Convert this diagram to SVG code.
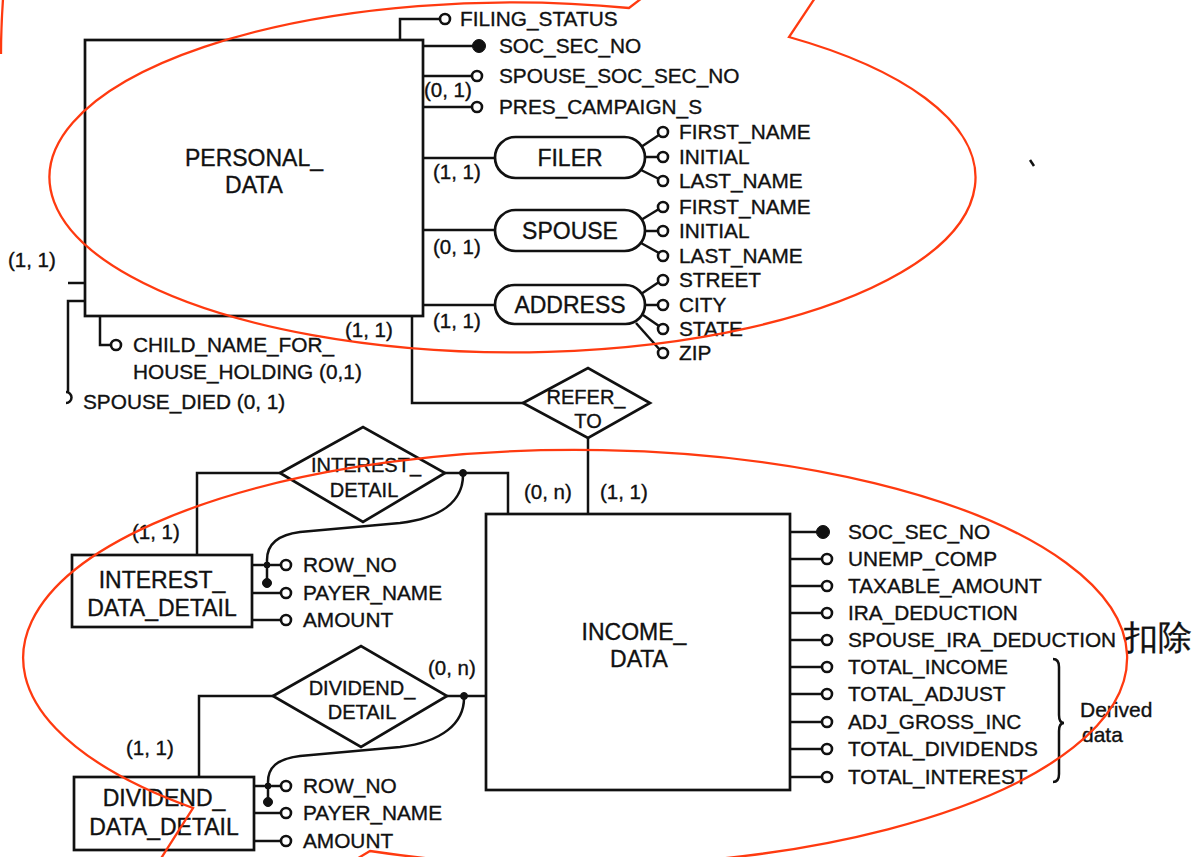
<svg xmlns="http://www.w3.org/2000/svg" width="1192" height="857" viewBox="0 0 1192 857">
<style>
text{font-family:"Liberation Sans",Arial,sans-serif;fill:#111;stroke:#111;stroke-width:0.35}
.ent{font-size:23px}
.rel{font-size:20px}
.att{font-size:20.8px}
.card{font-size:20.5px}
.box{fill:none;stroke:#111;stroke-width:2.7}
.ln{fill:none;stroke:#111;stroke-width:2.5}
.oc{fill:#fff;stroke:#111;stroke-width:2.6}
.fc{fill:#111;stroke:#111;stroke-width:1}
.red{fill:none;stroke:#ff3a10;stroke-width:2.3}
</style>
<rect width="1192" height="857" fill="#fff"/>

<g id="connectors">
<path class="ln" d="M400,40 V19 H440"/>
<path class="ln" d="M423,46 H473"/>
<path class="ln" d="M423,76 H472"/>
<path class="ln" d="M423,107 H472"/>
<path class="ln" d="M423,158 H495"/>
<path class="ln" d="M423,230 H495"/>
<path class="ln" d="M423,305 H495"/>
<path class="ln" d="M641,147 L659,135"/>
<path class="ln" d="M645,157 H658"/>
<path class="ln" d="M641,170 L659,179"/>
<path class="ln" d="M641,220 L659,209"/>
<path class="ln" d="M645,231 H658"/>
<path class="ln" d="M641,243 L659,253"/>
<path class="ln" d="M641,294 L659,282"/>
<path class="ln" d="M645,305 H658"/>
<path class="ln" d="M643,315 L659,326"/>
<path class="ln" d="M636,323 L660,350"/>
<path class="ln" d="M68,283 H86"/>
<path class="ln" d="M86,301 H68 V392"/>
<path class="ln" d="M66,392 A5.5,5.5 0 0 1 66,403"/>
<path class="ln" d="M100,316 V345 H111"/>
<path class="ln" d="M412,316 V403 H523"/>
<path class="ln" d="M588,438 V514"/>
<path class="ln" d="M280,473 H197 V555"/>
<path class="ln" d="M445,473 H508 V514"/>
<path class="ln" d="M463,473 C464,502 440,518 400,523 L300,532 C276,535 267,545 267,560 L267,583"/>
<circle class="fc" cx="463" cy="473" r="3.5"/>
<circle class="fc" cx="267" cy="565" r="3"/>
<circle class="fc" cx="267" cy="583" r="4.5"/>
<path class="ln" d="M252,565 H281"/>
<path class="ln" d="M252,593 H281"/>
<path class="ln" d="M252,620 H281"/>
<path class="ln" d="M273,696 H199 V777"/>
<path class="ln" d="M447,696 H486"/>
<path class="ln" d="M464,696 C465,724 441,742 400,747 L300,756 C276,759 268,768 268,782 L268,802"/>
<circle class="fc" cx="464" cy="696" r="3.5"/>
<circle class="fc" cx="268" cy="786" r="3"/>
<circle class="fc" cx="268" cy="802" r="4.5"/>
<path class="ln" d="M254,786 H281"/>
<path class="ln" d="M254,813 H281"/>
<path class="ln" d="M254,841 H281"/>
<path class="ln" d="M790,532 H818"/>
<path class="ln" d="M790,559 H822"/>
<path class="ln" d="M790,586 H822"/>
<path class="ln" d="M790,613 H822"/>
<path class="ln" d="M790,640 H822"/>
<path class="ln" d="M790,667 H822"/>
<path class="ln" d="M790,694 H822"/>
<path class="ln" d="M790,722 H822"/>
<path class="ln" d="M790,749 H822"/>
<path class="ln" d="M790,777 H822"/>
</g>

<g id="personal_data">
<rect class="box" x="85" y="40" width="338" height="276"/>
<text class="ent" x="254" y="166" text-anchor="middle">PERSONAL_</text>
<text class="ent" x="254" y="193" text-anchor="middle">DATA</text>
</g>

<g id="personal_attrs">
<circle class="oc" cx="445" cy="19" r="5"/>
<text class="att" x="460" y="26">FILING_STATUS</text>
<circle class="fc" cx="479" cy="46" r="6.5"/>
<text class="att" x="499" y="53">SOC_SEC_NO</text>
<circle class="oc" cx="477" cy="76" r="5"/>
<text class="att" x="499" y="83">SPOUSE_SOC_SEC_NO</text>
<circle class="oc" cx="477" cy="107" r="5"/>
<text class="att" x="499" y="114">PRES_CAMPAIGN_S</text>
<text class="card" x="424" y="97">(0, 1)</text>
<text class="card" x="433" y="179">(1, 1)</text>
<text class="card" x="433" y="254">(0, 1)</text>
<text class="card" x="433" y="328">(1, 1)</text>
<text class="card" x="345" y="337">(1, 1)</text>
<text class="card" x="8" y="267">(1, 1)</text>
<circle class="oc" cx="116" cy="345" r="5"/>
<text class="att" x="133" y="352">CHILD_NAME_FOR_</text>
<text class="att" x="133" y="379">HOUSE_HOLDING (0,1)</text>
<text class="att" x="83" y="409">SPOUSE_DIED (0, 1)</text>
</g>

<g id="filer">
<rect class="box" x="495" y="137" width="150" height="41" rx="20.5"/>
<text class="ent" x="570" y="166" text-anchor="middle">FILER</text>
<circle class="oc" cx="663" cy="132" r="5"/>
<circle class="oc" cx="663" cy="157" r="5"/>
<circle class="oc" cx="663" cy="181" r="5"/>
<text class="att" x="679" y="139">FIRST_NAME</text>
<text class="att" x="679" y="164">INITIAL</text>
<text class="att" x="679" y="188">LAST_NAME</text>
</g>

<g id="spouse">
<rect class="box" x="495" y="210" width="150" height="41" rx="20.5"/>
<text class="ent" x="570" y="239" text-anchor="middle">SPOUSE</text>
<circle class="oc" cx="663" cy="207" r="5"/>
<circle class="oc" cx="663" cy="231" r="5"/>
<circle class="oc" cx="663" cy="256" r="5"/>
<text class="att" x="679" y="214">FIRST_NAME</text>
<text class="att" x="679" y="238">INITIAL</text>
<text class="att" x="679" y="263">LAST_NAME</text>
</g>

<g id="address">
<rect class="box" x="495" y="285" width="150" height="39" rx="19.5"/>
<text class="ent" x="570" y="313" text-anchor="middle">ADDRESS</text>
<circle class="oc" cx="663" cy="280" r="5"/>
<circle class="oc" cx="663" cy="305" r="5"/>
<circle class="oc" cx="663" cy="329" r="5"/>
<circle class="oc" cx="663" cy="353" r="5"/>
<text class="att" x="679" y="287">STREET</text>
<text class="att" x="679" y="312">CITY</text>
<text class="att" x="679" y="336">STATE</text>
<text class="att" x="679" y="360">ZIP</text>
</g>

<g id="refer_to">
<polygon class="box" points="523,403 588,368 650,403 588,438"/>
<text class="rel" x="586" y="404" text-anchor="middle">REFER_</text>
<text class="rel" x="588" y="428" text-anchor="middle">TO</text>
<text class="card" x="524" y="499">(0, n)</text>
<text class="card" x="600" y="499">(1, 1)</text>
</g>

<g id="interest_detail">
<polygon class="box" points="280,473 363,427 445,473 363,522"/>
<text class="rel" x="366" y="472" text-anchor="middle">INTEREST_</text>
<text class="rel" x="364" y="497" text-anchor="middle">DETAIL</text>
<text class="card" x="132" y="539">(1, 1)</text>
</g>

<g id="interest_data_detail">
<rect class="box" x="72" y="555" width="180" height="72"/>
<text class="ent" x="162" y="588" text-anchor="middle">INTEREST_</text>
<text class="ent" x="162" y="616" text-anchor="middle">DATA_DETAIL</text>
<circle class="oc" cx="286" cy="565" r="5"/>
<circle class="oc" cx="286" cy="593" r="5"/>
<circle class="oc" cx="286" cy="620" r="5"/>
<text class="att" x="303" y="572">ROW_NO</text>
<text class="att" x="303" y="600">PAYER_NAME</text>
<text class="att" x="303" y="627">AMOUNT</text>
</g>

<g id="dividend_detail">
<polygon class="box" points="273,696 361,646 447,696 361,747"/>
<text class="rel" x="362" y="695" text-anchor="middle">DIVIDEND_</text>
<text class="rel" x="362" y="719" text-anchor="middle">DETAIL</text>
<text class="card" x="428" y="675">(0, n)</text>
<text class="card" x="126" y="755">(1, 1)</text>
</g>

<g id="dividend_data_detail">
<rect class="box" x="74" y="777" width="180" height="73"/>
<text class="ent" x="164" y="806" text-anchor="middle">DIVIDEND_</text>
<text class="ent" x="164" y="835" text-anchor="middle">DATA_DETAIL</text>
<circle class="oc" cx="286" cy="786" r="5"/>
<circle class="oc" cx="286" cy="813" r="5"/>
<circle class="oc" cx="286" cy="841" r="5"/>
<text class="att" x="303" y="793">ROW_NO</text>
<text class="att" x="303" y="820">PAYER_NAME</text>
<text class="att" x="303" y="848">AMOUNT</text>
</g>

<g id="income_data">
<rect class="box" x="486" y="514" width="304" height="276"/>
<text class="ent" x="634" y="640" text-anchor="middle">INCOME_</text>
<text class="ent" x="639" y="667" text-anchor="middle">DATA</text>
<circle class="fc" cx="823" cy="532" r="6.5"/>
<circle class="oc" cx="827" cy="559" r="5"/>
<circle class="oc" cx="827" cy="586" r="5"/>
<circle class="oc" cx="827" cy="613" r="5"/>
<circle class="oc" cx="827" cy="640" r="5"/>
<circle class="oc" cx="827" cy="667" r="5"/>
<circle class="oc" cx="827" cy="694" r="5"/>
<circle class="oc" cx="827" cy="722" r="5"/>
<circle class="oc" cx="827" cy="749" r="5"/>
<circle class="oc" cx="827" cy="777" r="5"/>
<text class="att" x="848" y="539">SOC_SEC_NO</text>
<text class="att" x="848" y="566">UNEMP_COMP</text>
<text class="att" x="848" y="593">TAXABLE_AMOUNT</text>
<text class="att" x="848" y="620">IRA_DEDUCTION</text>
<text class="att" x="848" y="647">SPOUSE_IRA_DEDUCTION</text>
<text class="att" x="848" y="674">TOTAL_INCOME</text>
<text class="att" x="848" y="701">TOTAL_ADJUST</text>
<text class="att" x="848" y="729">ADJ_GROSS_INC</text>
<text class="att" x="848" y="756">TOTAL_DIVIDENDS</text>
<text class="att" x="848" y="784">TOTAL_INTEREST</text>
</g>

<g id="derived_note">
<path class="ln" d="M1053,659 Q1059,659 1059,667 L1059,715 Q1059,723 1064,723 Q1059,723 1059,731 L1059,774 Q1059,782 1053,782" stroke-width="2"/>
<text x="1080" y="717" font-size="21">Derived</text>
<text x="1082" y="742" font-size="21">data</text>
<text x="1124" y="649" font-size="34" stroke-width="0" font-family="'Liberation Sans','Noto Sans CJK SC',sans-serif">扣除</text>
<path class="ln" d="M1030,160 L1034,166" stroke-width="2"/>
</g>

<g id="annotations">
<path class="red" d="M642,-2 L629,8 A463,175 0 1 0 789,37 L815,-2"/>
<path class="red" d="M355,860 L370,851 A552,208 0 1 0 193,808 L160,860"/>
<path class="red" d="M3,-1 Q1,28 1,54"/>
</g>
</svg>
